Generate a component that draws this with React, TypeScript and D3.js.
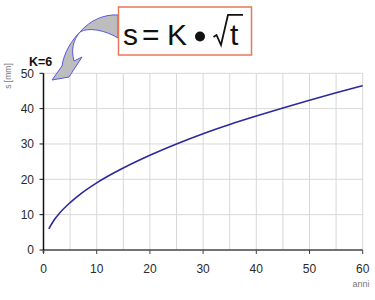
import React from "react";
import * as d3 from "d3";

const years = [1, 2, 3, 5, 7, 10, 15, 20, 25, 30, 35, 40, 45, 50, 55, 60];
const depth = [6.0, 8.5, 10.4, 13.4, 15.9, 19.0, 23.2, 26.8, 30.0, 32.9, 35.5, 37.9, 40.2, 42.4, 44.5, 46.5];
const xTicks = [0, 10, 20, 30, 40, 50, 60];
const yTicks = [0, 10, 20, 30, 40, 50];
const xGrid = [5, 10, 15, 20, 25, 30, 35, 40, 45, 50, 55, 60];
const yGrid = [10, 20, 30, 40, 50];

export default function App() {
  const x = d3.scaleLinear().domain([0, 60]).range([43.5, 362.7]);
  const y = d3.scaleLinear().domain([0, 50]).range([250, 73.3]);
  const pts: [number, number][] = years.map((t, i) => [t, depth[i]]);
  const line = d3
    .line<[number, number]>()
    .x((d) => x(d[0]))
    .y((d) => y(d[1]))
    .curve(d3.curveMonotoneX);
  const font = "Liberation Sans, Arial, sans-serif";
  return (
    <svg
      width={375}
      height={300}
      style={{ position: "absolute", left: 0, top: 0, background: "#fff" }}
      fontFamily={font}
    >
      <rect x={0} y={0} width={375} height={300} fill="#fff" />
      {xGrid.map((g) => (
        <line key={"xg" + g} x1={x(g)} x2={x(g)} y1={y(0)} y2={y(50)} stroke="#d8d8d8" strokeWidth={1} />
      ))}
      {yGrid.map((g) => (
        <line key={"yg" + g} x1={x(0)} x2={x(60)} y1={y(g)} y2={y(g)} stroke="#d8d8d8" strokeWidth={1} />
      ))}
      <line x1={x(0)} x2={x(60)} y1={y(0)} y2={y(0)} stroke="#444" strokeWidth={1.3} />
      <line x1={x(0)} x2={x(0)} y1={y(50)} y2={y(0) + 3} stroke="#111" strokeWidth={1.5} />
      {xTicks.map((t) => (
        <g key={"xt" + t}>
          <line x1={x(t)} x2={x(t)} y1={y(0)} y2={y(0) + 4} stroke="#444" strokeWidth={1} />
          <text x={x(t)} y={272.5} textAnchor="middle" fontSize={12} fill="#2a2a2a">
            {t}
          </text>
        </g>
      ))}
      {yTicks.map((t) => (
        <g key={"yt" + t}>
          <line x1={x(0) - 4} x2={x(0)} y1={y(t)} y2={y(t)} stroke="#111" strokeWidth={1} />
          <text x={34} y={y(t) + 4.2} textAnchor="end" fontSize={12} fill="#2a2a2a">
            {t}
          </text>
        </g>
      ))}
      <path d={line(pts) || ""} fill="none" stroke="#2a2a9c" strokeWidth={1.6} />
      <text x={361} y={287} textAnchor="middle" fontSize={9} fill="#777">
        anni
      </text>
      <text transform="translate(11,76) rotate(-90)" textAnchor="middle" fontSize={8.5} fill="#777">
        s [mm]
      </text>
      <text x={29} y={66} fontSize={12.5} fontWeight="bold" fill="#111">
        K=6
      </text>
      <path
        d="M118,15 C105,14 90,20 80,32 C72,40 64,52 62,66 L52,80 L69,77 L82,57 L74,61 C71,50 73,40 80,32 C88,27 105,30 118,38 Z"
        fill="#bdbdbd"
        stroke="#5858e0"
        strokeWidth={1}
        strokeLinejoin="round"
      />
      <rect x={118.5} y={7} width={133} height={48} fill="#fff" stroke="#e8775a" strokeWidth={1.5} />
      <g fill="#111" fontSize={30}>
        <text x={123} y={45}>s</text>
        <text x={142} y={45}>=</text>
        <text x={167} y={45}>K</text>
        <circle cx={200} cy={36.5} r={5} fill="#111" />
        <path d="M213.5,37 L216.5,35 L221,45 L228,14.8 L243,14.8" fill="none" stroke="#111" strokeWidth={1.8} strokeLinejoin="miter" />
        <text x={230} y={45}>t</text>
      </g>
    </svg>
  );
}
